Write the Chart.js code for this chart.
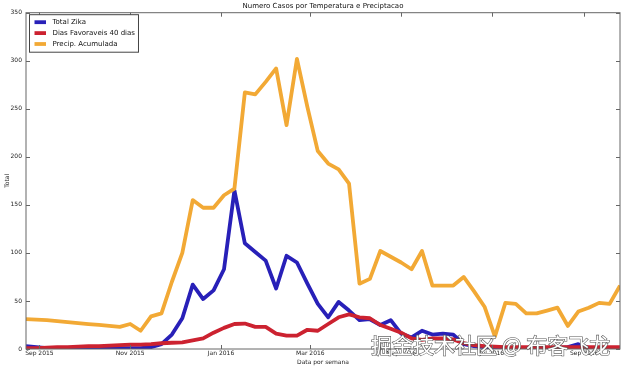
<!DOCTYPE html>
<html>
<head>
<meta charset="utf-8">
<script src="https://cdn.jsdelivr.net/npm/chart.js@4"></script>
<style>
  html, body { margin: 0; padding: 0; background: #fff; }
</style>
</head>
<body>
<canvas id="container" width="624" height="370"></canvas>
<script>
// Weekly dates (Sunday of each epidemiological week)
const weeks = [
    '2015-08-23', '2015-08-30', '2015-09-06', '2015-09-13', '2015-09-20', '2015-09-27',
    '2015-10-04', '2015-10-11', '2015-10-18', '2015-10-25', '2015-11-01', '2015-11-08',
    '2015-11-15', '2015-11-22', '2015-11-29', '2015-12-06', '2015-12-13', '2015-12-20',
    '2015-12-27', '2016-01-03', '2016-01-10', '2016-01-17', '2016-01-24', '2016-01-31',
    '2016-02-07', '2016-02-14', '2016-02-21', '2016-02-28', '2016-03-06', '2016-03-13',
    '2016-03-20', '2016-03-27', '2016-04-03', '2016-04-10', '2016-04-17', '2016-04-24',
    '2016-05-01', '2016-05-08', '2016-05-15', '2016-05-22', '2016-05-29', '2016-06-05',
    '2016-06-12', '2016-06-19', '2016-06-26', '2016-07-03', '2016-07-10', '2016-07-17',
    '2016-07-24', '2016-07-31', '2016-08-07', '2016-08-14', '2016-08-21', '2016-08-28',
    '2016-09-04', '2016-09-11', '2016-09-18', '2016-09-25'
];

const totalZika = [
    3, 2, 1, 1, 0, 0, 0, 0, 1, 1, 1, 1, 2, 5, 15, 32, 67, 52, 61, 83,
    165, 110, 101, 92, 63, 97, 90, 68, 47, 33, 49, 40, 30, 31, 25, 30, 16, 12, 19, 15,
    16, 15, 5, 3, 2, 1, 1, 1, 1, 0, 1, 1, 2, 5, 1, 1, 1, 1
];

const diasFavoraveis = [
    1, 1, 1.5, 2, 2, 2.5, 3, 3, 3.5, 4, 4.5, 4.5, 5, 6, 6.5, 7, 9, 11, 17, 22,
    26, 26.5, 23, 23, 16, 14, 14, 20, 19, 26, 33, 36, 33, 32, 25, 21, 17, 11, 9.5, 11,
    11, 10, 6, 4, 3, 2.5, 2, 2, 2, 2, 2, 2, 2, 2, 2, 2, 2, 2
];

const precipAcumulada = [
    31, 30.5, 30, 29, 28, 27, 26, 25, 24, 23, 26, 19, 34, 37, 70, 100, 155, 147, 147, 160,
    167, 267, 265, 278, 292, 233, 302, 252, 206, 193, 187, 172, 68, 73, 102, 96, 90, 83, 102, 66,
    66, 66, 75, 60, 44, 13, 48, 47, 37, 37, 40, 43, 24, 39, 43, 48, 47, 66
];

const tickDates = ['2015-09-01', '2015-11-01', '2016-01-01', '2016-03-01', '2016-05-01', '2016-07-01', '2016-09-01'];
const tickLabels = ['Sep 2015', 'Nov 2015', 'Jan 2016', 'Mar 2016', 'May 2016', 'Jul 2016', 'Sep 2016'];
const yTicks = [0, 50, 100, 150, 200, 250, 300, 350];

const toTime = d => Date.parse(d + 'T00:00:00Z');
const toPoints = values => weeks.map((w, i) => ({ x: toTime(w), y: values[i] }));

Chart.defaults.font.family = '"DejaVu Sans", sans-serif';
Chart.defaults.color = '#222';

// matplotlib style frame with inward ticks on all four sides
const frameTicks = {
    id: 'frameTicks',
    afterDatasetsDraw(chart) {
        const { ctx, chartArea: a, scales: { x, y } } = chart;
        ctx.save();
        ctx.strokeStyle = '#666';
        ctx.lineWidth = 1;
        ctx.strokeRect(a.left, a.top, a.right - a.left, a.bottom - a.top);
        ctx.beginPath();
        x.ticks.forEach(t => {
            const px = Math.round(x.getPixelForValue(t.value)) + 0.5;
            ctx.moveTo(px, a.bottom); ctx.lineTo(px, a.bottom - 4);
            ctx.moveTo(px, a.top); ctx.lineTo(px, a.top + 4);
        });
        y.ticks.forEach(t => {
            const py = Math.round(y.getPixelForValue(t.value)) + 0.5;
            ctx.moveTo(a.left, py); ctx.lineTo(a.left + 4, py);
            ctx.moveTo(a.right, py); ctx.lineTo(a.right - 4, py);
        });
        ctx.stroke();
        ctx.restore();
    }
};

// legend box in the upper left corner of the plot
const boxLegend = {
    id: 'boxLegend',
    afterDraw(chart) {
        const { ctx, chartArea: a } = chart;
        const sets = chart.data.datasets;
        ctx.save();
        ctx.font = '7px "DejaVu Sans", sans-serif';
        const maxW = Math.max(...sets.map(ds => ctx.measureText(ds.label).width));
        const left = a.left + 3.5, top = a.top + 2;
        const w = 23 + maxW + 3.5, h = 37.5;
        ctx.fillStyle = '#fff';
        ctx.fillRect(left, top, w, h);
        ctx.strokeStyle = '#444';
        ctx.lineWidth = 1;
        ctx.strokeRect(left, top, w, h);
        sets.forEach((ds, i) => {
            const cy = top + 7.5 + i * 10.9;
            ctx.strokeStyle = ds.borderColor;
            ctx.lineWidth = 3.8;
            ctx.beginPath();
            ctx.moveTo(left + 5, cy);
            ctx.lineTo(left + 16.5, cy);
            ctx.stroke();
            ctx.fillStyle = '#111';
            ctx.textBaseline = 'middle';
            ctx.fillText(ds.label, left + 23, cy);
        });
        ctx.restore();
    }
};

const watermark = {
    id: 'watermark',
    afterDraw(chart) {
        const ctx = chart.ctx;
        ctx.save();
        ctx.font = '21px "Noto Sans CJK SC", sans-serif';
        ctx.textBaseline = 'middle';
        ctx.lineWidth = 1.2;
        ctx.strokeStyle = '#555';
        ctx.fillStyle = '#fff';
        ctx.strokeText('掘金技术社区 @ 布客飞龙', 371, 345);
        ctx.fillText('掘金技术社区 @ 布客飞龙', 371, 345);
        ctx.restore();
    }
};

const line = (label, values, color, order) => ({
    label: label,
    data: toPoints(values),
    borderColor: color,
    backgroundColor: color,
    borderWidth: 3.8,
    borderJoinStyle: 'round',
    pointRadius: 0,
    tension: 0,
    order: order
});

const chart = new Chart(document.getElementById('container').getContext('2d'), {
    type: 'line',
    data: {
        datasets: [
            line('Total Zika', totalZika, '#2820b8', 2),
            line('Dias Favoraveis 40 dias', diasFavoraveis, '#cc2230', 1),
            line('Precip. Acumulada', precipAcumulada, '#f2a935', 0)
        ]
    },
    options: {
        responsive: false,
        animation: false,
        devicePixelRatio: 1,
        layout: { padding: { left: 0, right: 4, top: 0, bottom: 0 } },
        plugins: {
            legend: { display: false },
            tooltip: { enabled: false },
            title: {
                display: true,
                fullSize: false,
                text: 'Numero Casos por Temperatura e Preciptacao',
                color: '#111',
                font: { size: 7, weight: 'normal' },
                padding: { top: 2, bottom: 2.3 }
            }
        },
        scales: {
            x: {
                type: 'linear',
                min: toTime(weeks[0]),
                max: toTime(weeks[weeks.length - 1]),
                afterBuildTicks: s => { s.ticks = tickDates.map(d => ({ value: toTime(d) })); },
                afterFit: s => { s.height = 21; },
                grid: { display: false, drawTicks: false },
                border: { display: false },
                ticks: {
                    autoSkip: false,
                    maxRotation: 0,
                    padding: 1,
                    font: { size: 6 },
                    callback: (v, i) => tickLabels[i]
                },
                title: { display: true, text: 'Data por semana', font: { size: 6 }, padding: { top: 0, bottom: 3.7 } }
            },
            y: {
                min: 0,
                max: 350,
                afterBuildTicks: s => { s.ticks = yTicks.map(v => ({ value: v })); },
                afterFit: s => { s.width = 26; },
                grid: { display: false, drawTicks: false },
                border: { display: false },
                ticks: { padding: 4, font: { size: 6 } },
                title: { display: true, text: 'Total', font: { size: 6 }, padding: { top: 3.4, bottom: 0 } }
            }
        }
    },
    plugins: [frameTicks, boxLegend, watermark]
});
</script>
</body>
</html>
